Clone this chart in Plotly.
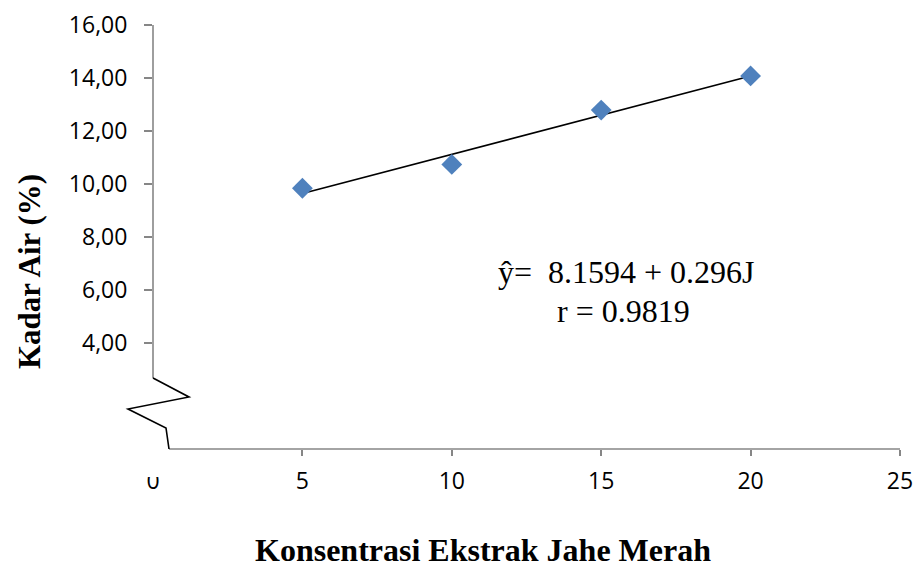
import plotly.graph_objects as go

# Concentration of red ginger extract (%) and measured moisture content (%)
konsentrasi = [5, 10, 15, 20]
kadar_air = [9.84, 10.74, 12.79, 14.08]

# Linear regression reported for the series
intercept = 8.1594
slope = 0.296
r_value = 0.9819

y_ticks = [4, 6, 8, 10, 12, 14, 16]
y_tick_text = ["4,00", "6,00", "8,00", "10,00", "12,00", "14,00", "16,00"]
x_ticks = [0, 5, 10, 15, 20, 25]
x_tick_text = ["0", "5", "10", "15", "20", "25"]

W, H = 915, 568
ML, MR, MT, MB = 153, 15, 25, 119
PW, PH = W - ML - MR, H - MT - MB

AXIS_GREY = "#868686"
TICK_FONT = dict(family="Open Sans", size=23, color="#000000")
SERIF = "Liberation Serif"


def px_to_paper(px, py):
    """Convert page pixel coordinates to paper coordinates."""
    return (px - ML) / PW, (H - MB - py) / PH


trend_x = [min(konsentrasi), max(konsentrasi)]
trend_y = [intercept + slope * x for x in trend_x]

fig = go.Figure()
fig.add_trace(go.Scatter(
    x=trend_x, y=trend_y, mode="lines",
    line=dict(color="#000000", width=1.6),
    showlegend=False, hoverinfo="skip",
))
fig.add_trace(go.Scatter(
    x=konsentrasi, y=kadar_air, mode="markers",
    marker=dict(symbol="diamond", size=16, color="#4F81BD", line=dict(width=0)),
    showlegend=False,
))

# Axis lines drawn as shapes: y axis stops above the break, x axis starts after it
shapes = []
# mask over the tick at zero and the upper edge of the "0" label
x0, y0 = px_to_paper(138, 477)
x1, y1 = px_to_paper(167, 447)
shapes.append(dict(type="rect", xref="paper", yref="paper", x0=x0, y0=y0, x1=x1, y1=y1,
                   fillcolor="white", line=dict(width=0), layer="above"))
ya, yb = px_to_paper(153, 378), px_to_paper(153, 25)
shapes.append(dict(type="line", xref="paper", yref="paper", x0=ya[0], y0=ya[1], x1=yb[0], y1=yb[1],
                   line=dict(color=AXIS_GREY, width=1.6), layer="above"))
xa, xb = px_to_paper(169, 449), px_to_paper(900, 449)
shapes.append(dict(type="line", xref="paper", yref="paper", x0=xa[0], y0=xa[1], x1=xb[0], y1=xb[1],
                   line=dict(color=AXIS_GREY, width=1.6), layer="above"))
# axis break zigzag
zig = [(153, 378), (189, 397), (128, 409), (166, 428), (169, 449)]
path = ""
for i, (px, py) in enumerate(zig):
    u, v = px_to_paper(px, py)
    path += ("M" if i == 0 else "L") + f"{u:.5f},{v:.5f} "
shapes.append(dict(type="path", xref="paper", yref="paper", path=path.strip(),
                   line=dict(color="#000000", width=1.6), layer="above"))

annotations = [
    dict(text="ŷ=&nbsp; 8.1594 + 0.296J", x=626, y=272),
    dict(text=f"r = {r_value}", x=623, y=311),
]
ann = []
for a in annotations:
    u, v = px_to_paper(a["x"], a["y"])
    ann.append(dict(text=a["text"], x=u, y=v, xref="paper", yref="paper",
                    xanchor="center", yanchor="middle", showarrow=False,
                    font=dict(family=SERIF, size=32, color="#000000")))

u, v = px_to_paper(483, 550)
ann.append(dict(text="<b>Konsentrasi Ekstrak Jahe Merah</b>", x=u, y=v, xref="paper", yref="paper",
                xanchor="center", yanchor="middle", showarrow=False,
                font=dict(family=SERIF, size=32, color="#000000")))
u, v = px_to_paper(29, 271)
ann.append(dict(text="<b>Kadar Air (%)</b>", x=u, y=v, xref="paper", yref="paper",
                xanchor="center", yanchor="middle", showarrow=False, textangle=-90,
                font=dict(family=SERIF, size=31, color="#000000")))

fig.update_layout(
    width=W, height=H,
    margin=dict(l=ML, r=MR, t=MT, b=MB, pad=0, autoexpand=False),
    paper_bgcolor="white", plot_bgcolor="white",
    shapes=shapes, annotations=ann,
    xaxis=dict(range=[0, 25], tickvals=x_ticks, ticktext=x_tick_text,
               ticks="outside", ticklen=6, tickwidth=1.6, tickcolor=AXIS_GREY,
               showline=False, showgrid=False, zeroline=False, automargin=False,
               tickfont=TICK_FONT, ticklabelstandoff=5, fixedrange=True),
    yaxis=dict(range=[0, 16], tickvals=y_ticks, ticktext=y_tick_text,
               ticks="outside", ticklen=8, tickwidth=1.6, tickcolor=AXIS_GREY,
               showline=False, showgrid=False, zeroline=False, automargin=False,
               tickfont=TICK_FONT, ticklabelstandoff=12, fixedrange=True),
)

fig.write_html("out.html")
